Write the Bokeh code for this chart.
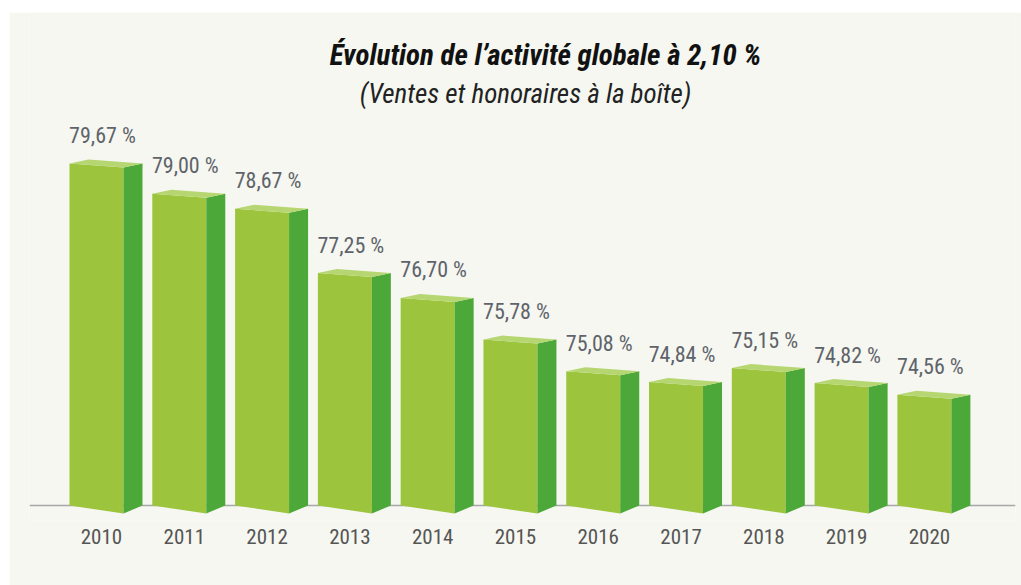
from bokeh.plotting import figure
from bokeh.models import Range1d, Span, Label, ColumnDataSource, FixedTicker
from bokeh.core.properties import value
from bokeh.embed import file_html
from bokeh.resources import INLINE

# ---- data ----
years = ["2010", "2011", "2012", "2013", "2014", "2015", "2016", "2017", "2018", "2019", "2020"]
values = [79.67, 79.00, 78.67, 77.25, 76.70, 75.78, 75.08, 74.84, 75.15, 74.82, 74.56]
value_labels = ["79,67 %", "79,00 %", "78,67 %", "77,25 %", "76,70 %", "75,78 %",
                "75,08 %", "74,84 %", "75,15 %", "74,82 %", "74,56 %"]
title_text = "Évolution de l’activité globale à 2,10 %"
subtitle_text = "(Ventes et honoraires à la boîte)"

# ---- scale / styling constants ----
BASE = 72.114            # value at the baseline
PX_X = 82.8              # px per category
PX_Y = 45.26             # px per value unit
FONT = "Roboto Condensed, Liberation Sans Narrow, DejaVu Sans Condensed, Roboto, sans-serif"
BG = "#f5f7f0"
FRONT = "#9cc43c"
SIDE = "#4da83a"
TOP = "#b6d672"

fl_off = -32 / PX_X      # front face left
fr_off = 22 / PX_X       # front face right
sr_off = 41 / PX_X       # side face right
ts = 4 / PX_Y            # top slant
bs = 8 / PX_Y            # bottom slant

idx = list(range(len(years)))

front_xs, front_ys, side_xs, side_ys, top_xs, top_ys = [], [], [], [], [], []
for i, v in zip(idx, values):
    fl, fr, sr = i + fl_off, i + fr_off, i + sr_off
    front_xs.append([fl, fr, fr, fl])
    front_ys.append([v, v - ts, BASE - bs, BASE])
    side_xs.append([fr, sr, sr, fr])
    side_ys.append([v - ts, v, BASE, BASE - bs])
    top_xs.append([fl, fr, sr, fl + (sr - fr)])
    top_ys.append([v, v - ts, v, v + ts])

# frame spans page y 12..520 and page x 29..1015
y_top = BASE + 493 / PX_Y
y_bot = BASE - 15 / PX_Y
p = figure(width=1012, height=573, output_backend="svg", toolbar_location=None,
           x_range=Range1d(-0.8696, 11.04), y_range=Range1d(y_bot, y_top),
           y_axis_location=None, min_border_left=20, min_border_right=6,
           min_border_top=0, min_border_bottom=65)
p.margin = (12, 0, 0, 9)
p.background_fill_color = BG
p.border_fill_color = BG
p.outline_line_color = None
p.xgrid.visible = False
p.ygrid.visible = False

p.add_layout(Span(location=BASE, dimension="width", line_color="#a8a8a8",
                  line_width=1.5, level="underlay"))

p.patches(front_xs, front_ys, fill_color=FRONT, line_color=None)
p.patches(side_xs, side_ys, fill_color=SIDE, line_color=None)
p.patches(top_xs, top_ys, fill_color=TOP, line_color=None)

src = ColumnDataSource(dict(x=idx, v=values, label=value_labels))
p.text(x="x", y="v", text="label", source=src, text_align="center",
       text_baseline="alphabetic", x_offset=1, y_offset=-28,
       text_font=value(FONT), text_font_size="22px", text_color="#5f636b")

ax = p.xaxis[0]
ax.ticker = FixedTicker(ticks=idx)
ax.major_label_overrides = {i: y for i, y in zip(idx, years)}
ax.axis_line_color = None
ax.major_tick_line_color = None
ax.minor_tick_line_color = None
ax.major_tick_out = 0
ax.major_label_standoff = 8
ax.major_label_text_font = FONT
ax.major_label_text_font_size = "21px"
ax.major_label_text_color = "#555555"

# titles (positioned in the plot's coordinate space, above the bars)
p.add_layout(Label(x=(545 - 101) / PX_X, y=BASE + (505 - 54) / PX_Y, text=title_text,
                   text_align="center", text_baseline="alphabetic",
                   text_font=FONT, text_font_style="bold italic",
                   text_font_size="29px", text_color="#111111"))
p.add_layout(Label(x=(525 - 101) / PX_X, y=BASE + (505 - 93) / PX_Y, text=subtitle_text,
                   text_align="center", text_baseline="alphabetic",
                   text_font=FONT, text_font_style="italic",
                   text_font_size="27px", text_color="#222222"))

open("out.html", "w").write(file_html(p, INLINE))
